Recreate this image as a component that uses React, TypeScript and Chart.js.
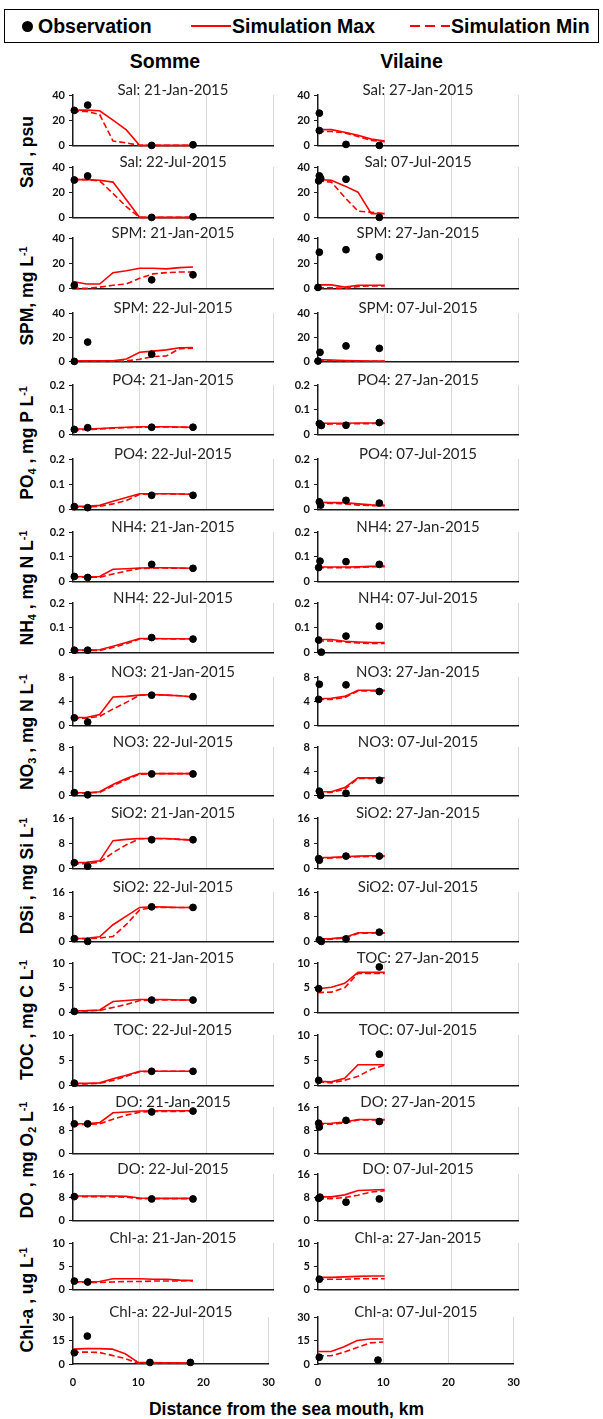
import React, { useEffect, useRef } from 'react';
import { Chart, registerables } from 'chart.js';

Chart.register(...registerables);

// ---------------- categories / axes ----------------
const SOMME_SIM_KM = [0, 2, 4, 6, 8, 10, 12, 14, 16, 18];
const VILAINE_SIM_KM = [0, 2, 4, 6, 8, 10];
const X_MIN = 0;
const X_MAX = 30;
const X_STEP = 10;
const VARIABLES = ['Sal', 'SPM', 'PO4', 'NH4', 'NO3', 'SiO2', 'TOC', 'DO', 'Chl-a'];
const SOMME_DATES = ['21-Jan-2015', '22-Jul-2015'];
const VILAINE_DATES = ['27-Jan-2015', '07-Jul-2015'];
const Y_MAX_JAN = [40, 40, 0.2, 0.2, 8, 16, 10, 16, 10];
const Y_MAX_JUL = [40, 40, 0.2, 0.2, 8, 16, 10, 16, 30];
const LEGEND_LABELS = ['Observation', 'Simulation Max', 'Simulation Min'];
const COLUMN_LABELS = ['Somme', 'Vilaine'];
const X_TITLE = 'Distance from the sea mouth, km';

// ---------------- Somme (observations: [km, value]) ----------------
const sommeSalJanObs = [[0.2, 27.8], [2.2, 32], [11.8, 0], [18, 0.5]];
const sommeSalJanMax = [28, 28, 27.5, 20, 12.3, 0, 0, 0, 0, 0];
const sommeSalJanMin = [27, 27, 24.5, 3.5, 2, 0, 0, 0, 0, 0];
const sommeSalJulObs = [[0.2, 29.7], [2.2, 32.9], [11.8, 0], [18, 0.5]];
const sommeSalJulMax = [30, 30, 29.5, 28, 14, 0, 0, 0, 0, 0];
const sommeSalJulMin = [30, 30, 29, 19, 8.5, 0, 0, 0, 0, 0];

const sommeSpmJanObs = [[0.2, 2.5], [11.8, 6.8], [18, 10.8]];
const sommeSpmJanMax = [5.5, 3.5, 3.5, 12.5, 14, 16, 16, 15.5, 16.5, 17];
const sommeSpmJanMin = [0, 0, 1, 2.5, 3.5, 8, 11.5, 12.5, 13, 13];
const sommeSpmJulObs = [[0.2, 0], [2.2, 16], [11.8, 6]];
const sommeSpmJulMax = [0.5, 0.5, 0.5, 0.5, 2, 7.5, 8.5, 9.5, 11.3, 11.4];
const sommeSpmJulMin = [0.3, 0.3, 0.3, 0.3, 0.4, 1.8, 4, 4.5, 10.5, 11];

const sommePo4JanObs = [[0.2, 0.02], [2.2, 0.027], [11.8, 0.029], [18, 0.029]];
const sommePo4JanMax = [0.022, 0.022, 0.024, 0.027, 0.029, 0.031, 0.031, 0.031, 0.03, 0.029];
const sommePo4JanMin = [0.018, 0.019, 0.022, 0.025, 0.027, 0.029, 0.03, 0.03, 0.029, 0.028];
const sommePo4JulObs = [[0.2, 0.011], [2.2, 0.007], [11.8, 0.056], [18, 0.056]];
const sommePo4JulMax = [0.012, 0.012, 0.016, 0.032, 0.047, 0.062, 0.062, 0.062, 0.061, 0.06];
const sommePo4JulMin = [0.01, 0.01, 0.012, 0.022, 0.035, 0.06, 0.062, 0.062, 0.061, 0.06];

const sommeNh4JanObs = [[0.2, 0.02], [2.2, 0.016], [11.8, 0.069], [18, 0.053]];
const sommeNh4JanMax = [0.02, 0.019, 0.02, 0.049, 0.051, 0.054, 0.055, 0.055, 0.054, 0.053];
const sommeNh4JanMin = [0.018, 0.017, 0.017, 0.03, 0.042, 0.052, 0.054, 0.054, 0.053, 0.053];
const sommeNh4JulObs = [[0.2, 0.009], [2.2, 0.009], [11.8, 0.06], [18, 0.054]];
const sommeNh4JulMax = [0.01, 0.01, 0.011, 0.025, 0.04, 0.056, 0.056, 0.055, 0.055, 0.054];
const sommeNh4JulMin = [0.008, 0.008, 0.008, 0.02, 0.035, 0.054, 0.055, 0.055, 0.054, 0.054];

const sommeNo3JanObs = [[0.2, 1.25], [2.2, 0.55], [11.8, 5.0], [18, 4.75]];
const sommeNo3JanMax = [1.3, 1.3, 1.8, 4.7, 4.8, 5.0, 5.1, 5.0, 4.9, 4.7];
const sommeNo3JanMin = [1.2, 1.2, 1.5, 2.7, 3.8, 5.0, 5.1, 5.0, 4.9, 4.7];
const sommeNo3JulObs = [[0.2, 0.45], [2.2, 0.1], [11.8, 3.55], [18, 3.55]];
const sommeNo3JulMax = [0.45, 0.45, 0.6, 1.8, 2.8, 3.6, 3.6, 3.6, 3.6, 3.6];
const sommeNo3JulMin = [0.4, 0.4, 0.5, 1.6, 2.6, 3.5, 3.6, 3.6, 3.6, 3.6];

const sommeSiJanObs = [[0.2, 1.8], [2.2, 0.7], [11.8, 9.1], [18, 9.1]];
const sommeSiJanMax = [1.8, 1.9, 2.4, 8.8, 9.2, 9.5, 9.5, 9.5, 9.2, 9.0];
const sommeSiJanMin = [1.5, 1.5, 2.0, 5.0, 7.5, 9.4, 9.5, 9.4, 9.2, 9.0];
const sommeSiJulObs = [[0.2, 0.9], [2.2, 0], [11.8, 11.2], [18, 11]];
const sommeSiJulMax = [0.9, 1.0, 1.5, 5.4, 8.2, 11.0, 11.2, 11.1, 11.0, 11.0];
const sommeSiJulMin = [0.9, 0.9, 1.1, 1.6, 5.5, 10.2, 11.0, 11.0, 11.0, 11.0];

const sommeTocJanObs = [[0.2, 0.2], [11.8, 2.5], [18, 2.5]];
const sommeTocJanMax = [0.3, 0.35, 0.5, 2.2, 2.4, 2.6, 2.6, 2.6, 2.5, 2.5];
const sommeTocJanMin = [0.3, 0.3, 0.4, 1.0, 1.6, 2.4, 2.5, 2.5, 2.5, 2.5];
const sommeTocJulObs = [[0.2, 0.45], [11.8, 2.8], [18, 2.8]];
const sommeTocJulMax = [0.4, 0.4, 0.5, 1.3, 2.0, 2.8, 2.8, 2.8, 2.8, 2.8];
const sommeTocJulMin = [0.3, 0.3, 0.4, 1.0, 1.8, 2.7, 2.8, 2.8, 2.8, 2.8];

const sommeDoJanObs = [[0.2, 10.2], [2.2, 10.2], [11.8, 14.3], [18, 14.6]];
const sommeDoJanMax = [10.2, 10.2, 10.6, 14.0, 14.3, 14.6, 14.7, 14.7, 14.7, 14.7];
const sommeDoJanMin = [10.0, 10.0, 10.2, 11.8, 13.2, 14.2, 14.5, 14.5, 14.5, 14.6];
const sommeDoJulObs = [[0.2, 8.2], [11.8, 7.4], [18, 7.4]];
const sommeDoJulMax = [8.4, 8.4, 8.4, 8.4, 8.3, 7.7, 7.6, 7.6, 7.6, 7.6];
const sommeDoJulMin = [8.2, 8.2, 8.2, 8.1, 8.0, 7.5, 7.5, 7.5, 7.5, 7.5];

const sommeChlJanObs = [[0.2, 1.8], [2.2, 1.6]];
const sommeChlJanMax = [1.7, 1.6, 1.7, 2.3, 2.3, 2.3, 2.2, 2.2, 2.0, 1.9];
const sommeChlJanMin = [1.6, 1.5, 1.5, 1.6, 1.7, 1.7, 1.8, 1.8, 1.8, 1.9];
const sommeChlJulObs = [[0.2, 7.2], [2.2, 17.8], [11.8, 1], [18, 1]];
const sommeChlJulMax = [9.5, 9.8, 9.8, 9.5, 6.5, 1.0, 0.9, 0.8, 0.7, 0.6];
const sommeChlJulMin = [7.5, 7.6, 7.4, 5.5, 3.5, 0.5, 0.5, 0.5, 0.5, 0.5];

// ---------------- Vilaine ----------------
const vilaineSalJanObs = [[0.2, 25.6], [0.2, 11.8], [4.2, 0.8], [9.2, 0]];
const vilaineSalJanMax = [12.5, 12.5, 10.5, 8, 5, 3.5];
const vilaineSalJanMin = [11, 11, 10, 7, 4, 3];
const vilaineSalJulObs = [[0.2, 33], [0.4, 31], [0.1, 29], [4.2, 30.3], [9.2, 0]];
const vilaineSalJulMax = [30, 29.5, 25, 20, 3, 3];
const vilaineSalJulMin = [29, 28, 16, 5, 4, 3];

const vilaineSpmJanObs = [[0.2, 28.7], [0, 0.8], [4.2, 30.7], [9.2, 25]];
const vilaineSpmJanMax = [2.8, 2.8, 1, 2.5, 2.5, 2.5];
const vilaineSpmJanMin = [0.5, 0.5, 0, 1.5, 2, 2];
const vilaineSpmJulObs = [[0, 0.3], [0.3, 7.5], [4.2, 12.8], [9.2, 10.8]];
const vilaineSpmJulMax = [1.5, 1.2, 0.8, 0.5, 0.3, 0.2];
const vilaineSpmJulMin = [0.8, 0.6, 0.3, 0.2, 0.1, 0.1];

const vilainePo4JanObs = [[0.2, 0.044], [0.5, 0.036], [4.2, 0.037], [9.2, 0.048]];
const vilainePo4JanMax = [0.045, 0.045, 0.045, 0.046, 0.046, 0.046];
const vilainePo4JanMin = [0.041, 0.042, 0.043, 0.043, 0.044, 0.044];
const vilainePo4JulObs = [[0.2, 0.03], [0.4, 0.017], [4.2, 0.036], [9.2, 0.025]];
const vilainePo4JulMax = [0.028, 0.027, 0.027, 0.022, 0.018, 0.017];
const vilainePo4JulMin = [0.025, 0.024, 0.022, 0.017, 0.015, 0.014];

const vilaineNh4JanObs = [[0.3, 0.082], [0.1, 0.056], [4.2, 0.08], [9.2, 0.069]];
const vilaineNh4JanMax = [0.058, 0.058, 0.058, 0.059, 0.061, 0.062];
const vilaineNh4JanMin = [0.055, 0.055, 0.055, 0.056, 0.059, 0.06];
const vilaineNh4JulObs = [[0.1, 0.05], [0.5, 0.001], [4.2, 0.066], [9.2, 0.106]];
const vilaineNh4JulMax = [0.052, 0.052, 0.045, 0.042, 0.04, 0.04];
const vilaineNh4JulMin = [0.046, 0.046, 0.042, 0.038, 0.036, 0.036];

const vilaineNo3JanObs = [[0.2, 6.8], [0.1, 4.3], [4.2, 6.7], [9.2, 5.6]];
const vilaineNo3JanMax = [4.4, 4.5, 4.8, 5.8, 5.8, 5.8];
const vilaineNo3JanMin = [4.3, 4.3, 4.6, 5.7, 5.7, 5.7];
const vilaineNo3JulObs = [[0.2, 0.7], [0.4, 0], [4.2, 0.35], [9.2, 2.5]];
const vilaineNo3JulMax = [0.6, 0.6, 1.3, 2.9, 2.9, 2.9];
const vilaineNo3JulMin = [0.5, 0.5, 1.0, 2.8, 2.8, 2.8];

const vilaineSiJanObs = [[0.1, 3.1], [0.2, 2.6], [4.2, 3.9], [9.2, 3.9]];
const vilaineSiJanMax = [3.4, 3.5, 3.7, 3.9, 4.0, 4.0];
const vilaineSiJanMin = [3.2, 3.3, 3.5, 3.7, 3.8, 3.8];
const vilaineSiJulObs = [[0.2, 0.5], [0.5, 0], [4.2, 0.8], [9.2, 3]];
const vilaineSiJulMax = [0.8, 0.9, 1.3, 2.8, 2.8, 2.8];
const vilaineSiJulMin = [0.6, 0.7, 1.1, 2.6, 2.7, 2.7];

const vilaineTocJanObs = [[0.1, 4.8], [9.2, 9.2]];
const vilaineTocJanMax = [4.8, 5.1, 5.9, 8.1, 8.1, 8.1];
const vilaineTocJanMin = [4.0, 4.1, 5.0, 7.9, 7.9, 7.9];
const vilaineTocJulObs = [[0.1, 1.0], [9.2, 6.2]];
const vilaineTocJulMax = [0.8, 0.7, 1.4, 4.1, 4.1, 4.1];
const vilaineTocJulMin = [0.7, 0.5, 1.0, 1.8, 3.2, 4.0];

const vilaineDoJanObs = [[0.1, 10.4], [0.2, 9.1], [4.2, 11.4], [9.2, 11]];
const vilaineDoJanMax = [10.3, 10.4, 10.8, 11.7, 11.7, 11.7];
const vilaineDoJanMin = [10.0, 10.1, 10.5, 11.5, 11.5, 11.5];
const vilaineDoJulObs = [[0.1, 7.6], [0.3, 8.0], [4.2, 6.3], [9.2, 7.4]];
const vilaineDoJulMax = [8.1, 8.1, 8.8, 10.3, 10.5, 10.6];
const vilaineDoJulMin = [7.5, 7.5, 7.9, 8.7, 9.8, 10.2];

const vilaineChlJanObs = [[0.2, 2.2]];
const vilaineChlJanMax = [2.6, 2.6, 2.7, 2.8, 2.9, 2.9];
const vilaineChlJanMin = [2.2, 2.2, 2.2, 2.3, 2.3, 2.3];
const vilaineChlJulObs = [[0.2, 4.3], [9.2, 2.5]];
const vilaineChlJulMax = [8, 8, 11, 15, 16, 16];
const vilaineChlJulMin = [5.3, 5.3, 7.5, 10.5, 13.5, 14];

const SOMME_SERIES = [
  [sommeSalJanObs, sommeSalJanMax, sommeSalJanMin], [sommeSalJulObs, sommeSalJulMax, sommeSalJulMin],
  [sommeSpmJanObs, sommeSpmJanMax, sommeSpmJanMin], [sommeSpmJulObs, sommeSpmJulMax, sommeSpmJulMin],
  [sommePo4JanObs, sommePo4JanMax, sommePo4JanMin], [sommePo4JulObs, sommePo4JulMax, sommePo4JulMin],
  [sommeNh4JanObs, sommeNh4JanMax, sommeNh4JanMin], [sommeNh4JulObs, sommeNh4JulMax, sommeNh4JulMin],
  [sommeNo3JanObs, sommeNo3JanMax, sommeNo3JanMin], [sommeNo3JulObs, sommeNo3JulMax, sommeNo3JulMin],
  [sommeSiJanObs, sommeSiJanMax, sommeSiJanMin], [sommeSiJulObs, sommeSiJulMax, sommeSiJulMin],
  [sommeTocJanObs, sommeTocJanMax, sommeTocJanMin], [sommeTocJulObs, sommeTocJulMax, sommeTocJulMin],
  [sommeDoJanObs, sommeDoJanMax, sommeDoJanMin], [sommeDoJulObs, sommeDoJulMax, sommeDoJulMin],
  [sommeChlJanObs, sommeChlJanMax, sommeChlJanMin], [sommeChlJulObs, sommeChlJulMax, sommeChlJulMin],
];
const VILAINE_SERIES = [
  [vilaineSalJanObs, vilaineSalJanMax, vilaineSalJanMin], [vilaineSalJulObs, vilaineSalJulMax, vilaineSalJulMin],
  [vilaineSpmJanObs, vilaineSpmJanMax, vilaineSpmJanMin], [vilaineSpmJulObs, vilaineSpmJulMax, vilaineSpmJulMin],
  [vilainePo4JanObs, vilainePo4JanMax, vilainePo4JanMin], [vilainePo4JulObs, vilainePo4JulMax, vilainePo4JulMin],
  [vilaineNh4JanObs, vilaineNh4JanMax, vilaineNh4JanMin], [vilaineNh4JulObs, vilaineNh4JulMax, vilaineNh4JulMin],
  [vilaineNo3JanObs, vilaineNo3JanMax, vilaineNo3JanMin], [vilaineNo3JulObs, vilaineNo3JulMax, vilaineNo3JulMin],
  [vilaineSiJanObs, vilaineSiJanMax, vilaineSiJanMin], [vilaineSiJulObs, vilaineSiJulMax, vilaineSiJulMin],
  [vilaineTocJanObs, vilaineTocJanMax, vilaineTocJanMin], [vilaineTocJulObs, vilaineTocJulMax, vilaineTocJulMin],
  [vilaineDoJanObs, vilaineDoJanMax, vilaineDoJanMin], [vilaineDoJulObs, vilaineDoJulMax, vilaineDoJulMin],
  [vilaineChlJanObs, vilaineChlJanMax, vilaineChlJanMin], [vilaineChlJulObs, vilaineChlJulMax, vilaineChlJulMin],
];

// ---------------- layout ----------------
const COL_PLOT_LEFT = [73, 318];
const PLOT_W = 200;
const ROW_TOP = [95, 167, 238, 313, 385, 459, 532, 603, 677, 747, 818, 892, 963, 1035, 1107, 1174, 1243, 1317];
const ROW_BOTTOM = [146, 218, 289, 362, 435, 510, 582, 653, 726, 796, 869, 942, 1013, 1086, 1154, 1221, 1290, 1364];
const Y_AXIS_W = 40;
const PAD_TOP = 18;
const PAD_RIGHT = 14;
const LABEL_Y = [152, 296, 443, 588, 732, 876, 1020, 1160, 1300];

const RED = '#ff0000';
const AXIS = '#1a1a1a';
const GRID = '#d9d9d9';
const TICK_FONT = { family: 'Lato, "Liberation Sans", sans-serif', size: 11, weight: 'bold' as const };

function Sub({ children }: { children: React.ReactNode }) {
  return <span style={{ fontSize: '0.62em', position: 'relative', top: '0.3em' }}>{children}</span>;
}
function Sup({ children }: { children: React.ReactNode }) {
  return <span style={{ fontSize: '0.62em', position: 'relative', top: '-0.55em' }}>{children}</span>;
}

const Y_LABELS: React.ReactNode[] = [
  <>Sal , psu</>,
  <>SPM, mg L<Sup>-1</Sup></>,
  <>PO<Sub>4</Sub> , mg P L<Sup>-1</Sup></>,
  <>NH<Sub>4</Sub> , mg N L<Sup>-1</Sup></>,
  <>NO<Sub>3</Sub> , mg N L<Sup>-1</Sup></>,
  <>DSi , mg Si L<Sup>-1</Sup></>,
  <>TOC , mg C L<Sup>-1</Sup></>,
  <>DO , mg O<Sub>2</Sub> L<Sup>-1</Sup></>,
  <>Chl-a , ug L<Sup>-1</Sup></>,
];

type Spec = {
  col: number;
  row: number;
  title: string;
  yMax: number;
  obs: number[][];
  max: number[];
  min: number[];
  km: number[];
};

function buildSpecs(): Spec[] {
  const specs: Spec[] = [];
  for (let col = 0; col < 2; col++) {
    const series = col === 0 ? SOMME_SERIES : VILAINE_SERIES;
    const dates = col === 0 ? SOMME_DATES : VILAINE_DATES;
    const km = col === 0 ? SOMME_SIM_KM : VILAINE_SIM_KM;
    for (let row = 0; row < 18; row++) {
      const v = Math.floor(row / 2);
      const d = row % 2;
      const [obs, mx, mn] = series[row] as [number[][], number[], number[]];
      specs.push({
        col, row,
        title: `${VARIABLES[v]}: ${dates[d]}`,
        yMax: d === 0 ? Y_MAX_JAN[v] : Y_MAX_JUL[v],
        obs, max: mx, min: mn, km,
      });
    }
  }
  return specs;
}

function Panel({ spec }: { spec: Spec }) {
  const ref = useRef<HTMLCanvasElement>(null);
  const isBottom = spec.row === 17;
  const plotH = ROW_BOTTOM[spec.row] - ROW_TOP[spec.row];
  const xH = isBottom ? 26 : 10;
  const w = Y_AXIS_W + PLOT_W + PAD_RIGHT;
  const h = PAD_TOP + plotH + xH;
  const left = COL_PLOT_LEFT[spec.col] - Y_AXIS_W;
  const top = ROW_TOP[spec.row] - PAD_TOP;

  useEffect(() => {
    const titlePlugin = {
      id: 'panelTitle',
      afterDraw(chart: any) {
        const { ctx, chartArea } = chart;
        ctx.save();
        ctx.font = '15px Lato, "Liberation Sans", sans-serif';
        ctx.fillStyle = '#262626';
        ctx.textAlign = 'center';
        ctx.textBaseline = 'middle';
        ctx.fillText(spec.title, (chartArea.left + chartArea.right) / 2, chartArea.top - 5);
        ctx.restore();
      },
    };
    const chart = new Chart(ref.current as HTMLCanvasElement, {
      type: 'line',
      data: {
        datasets: [
          {
            label: LEGEND_LABELS[0],
            data: spec.obs.map(([x, y]) => ({ x, y })),
            showLine: false,
            pointRadius: 3.4,
            pointBackgroundColor: '#000',
            pointBorderColor: '#000',
            pointBorderWidth: 1,
            clip: false as any,
          },
          {
            label: LEGEND_LABELS[1],
            data: spec.km.map((x, i) => ({ x, y: spec.max[i] })),
            borderColor: RED,
            borderWidth: 1.6,
            pointRadius: 0,
            tension: 0,
            clip: false as any,
          },
          {
            label: LEGEND_LABELS[2],
            data: spec.km.map((x, i) => ({ x, y: spec.min[i] })),
            borderColor: RED,
            borderWidth: 1.6,
            borderDash: [6, 3],
            pointRadius: 0,
            tension: 0,
            clip: false as any,
          },
        ],
      },
      options: {
        animation: false,
        responsive: false,
        maintainAspectRatio: false,
        events: [],
        layout: { padding: { top: PAD_TOP, right: PAD_RIGHT, left: 0, bottom: 0 } },
        plugins: { legend: { display: false }, tooltip: { enabled: false }, title: { display: false } },
        scales: {
          x: {
            type: 'linear',
            min: X_MIN,
            max: X_MAX,
            ticks: {
              display: isBottom,
              stepSize: X_STEP,
              padding: 12,
              maxRotation: 0,
              autoSkip: false,
              font: TICK_FONT,
              color: '#111',
            },
            grid: {
              color: (ctx: any) => (ctx.tick && ctx.tick.value === 0 ? 'rgba(0,0,0,0)' : GRID),
              lineWidth: 1,
              drawTicks: false,
            },
            border: { display: true, color: AXIS, width: 1.5 },
            afterFit: (s: any) => { s.height = xH; },
          },
          y: {
            min: 0,
            max: spec.yMax,
            ticks: {
              stepSize: spec.yMax / 2,
              padding: 4,
              font: TICK_FONT,
              color: '#111',
            },
            grid: { display: true, drawOnChartArea: false, drawTicks: true, tickLength: 4, color: AXIS, lineWidth: 1 },
            border: { display: true, color: AXIS, width: 1.5 },
            afterFit: (s: any) => { s.width = Y_AXIS_W; },
          },
        },
      } as any,
      plugins: [titlePlugin],
    });
    return () => chart.destroy();
  }, []);

  return (
    <canvas
      ref={ref}
      width={w}
      height={h}
      style={{ position: 'absolute', left, top, width: w, height: h }}
    />
  );
}

const SPECS = buildSpecs();

export default function App() {
  const bold = '"Liberation Sans", Arial, sans-serif';
  return (
    <div style={{ position: 'absolute', left: 0, top: 0, width: 603, height: 1419, background: '#fff', overflow: 'hidden' }}>
      {/* legend */}
      <div style={{ position: 'absolute', left: 4, top: 9, width: 595, height: 34, border: '1.5px solid #000', boxSizing: 'border-box' }} />
      <div style={{ position: 'absolute', left: 21.5, top: 20.5, width: 11, height: 11, borderRadius: '50%', background: '#000' }} />
      <div style={{ position: 'absolute', left: 38, top: 15, lineHeight: '22px', font: `bold 19.5px ${bold}`, whiteSpace: 'nowrap' }}>{LEGEND_LABELS[0]}</div>
      <div style={{ position: 'absolute', left: 191, top: 25, width: 40, height: 2, background: RED }} />
      <div style={{ position: 'absolute', left: 232, top: 15, lineHeight: '22px', font: `bold 19.5px ${bold}`, whiteSpace: 'nowrap' }}>{LEGEND_LABELS[1]}</div>
      <div style={{ position: 'absolute', left: 410, top: 25, width: 41, height: 2, background: `repeating-linear-gradient(90deg, ${RED} 0px, ${RED} 9.5px, transparent 9.5px, transparent 15.4px)` }} />
      <div style={{ position: 'absolute', left: 451, top: 15, lineHeight: '22px', font: `bold 19.5px ${bold}`, whiteSpace: 'nowrap' }}>{LEGEND_LABELS[2]}</div>

      {/* column headings */}
      {COLUMN_LABELS.map((c, i) => (
        <div key={c} style={{ position: 'absolute', left: i === 0 ? 165 : 411.5, top: 62, transform: 'translate(-50%,-50%)', font: `bold 19.5px ${bold}`, lineHeight: 1, whiteSpace: 'nowrap' }}>{c}</div>
      ))}

      {/* y-axis labels */}
      {Y_LABELS.map((lab, i) => (
        <div key={i} style={{ position: 'absolute', left: 28, top: LABEL_Y[i], transform: 'translate(-50%,-50%) rotate(-90deg)', font: `bold 17.5px ${bold}`, lineHeight: 1, whiteSpace: 'nowrap' }}>{lab}</div>
      ))}

      {SPECS.map((s) => (
        <Panel key={`${s.col}-${s.row}`} spec={s} />
      ))}

      {/* x-axis title */}
      <div style={{ position: 'absolute', left: 286.5, top: 1410, transform: 'translate(-50%,-50%)', font: `bold 17.5px ${bold}`, lineHeight: 1, whiteSpace: 'nowrap' }}>{X_TITLE}</div>
    </div>
  );
}
